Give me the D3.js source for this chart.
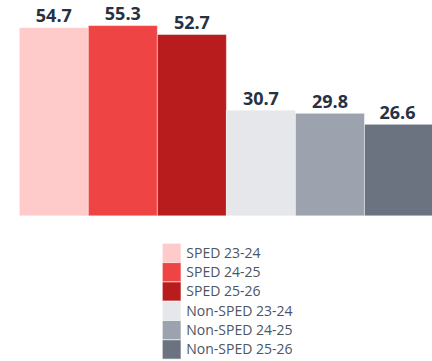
<!DOCTYPE html>
<html>
<head>
<meta charset="utf-8">
<script src="https://cdn.jsdelivr.net/npm/d3@7"></script>
<style>
  html, body { margin: 0; padding: 0; background: #ffffff; }
  svg { display: block; }
</style>
</head>
<body>
<svg id="chart" width="432" height="361"></svg>
<script>
// Series names, values and fills
const categories = ["SPED 23-24", "SPED 24-25", "SPED 25-26", "Non-SPED 23-24", "Non-SPED 24-25", "Non-SPED 25-26"];
const values = [54.7, 55.3, 52.7, 30.7, 29.8, 26.6];
const colors = ["#fecaca", "#ef4444", "#b91c1c", "#e5e7eb", "#9ca3af", "#6b7280"];

const svg = d3.select("#chart");

const x = d3.scaleBand().domain(categories).range([19.3, 433.5]).padding(0);
const y = d3.scaleLinear().domain([0, 60]).range([215.8, 9.4]);

const bars = svg.append("g");
bars.selectAll("rect")
  .data(categories)
  .join("rect")
  .attr("x", d => x(d))
  .attr("y", (d, i) => y(values[i]))
  .attr("width", x.bandwidth())
  .attr("height", (d, i) => y(0) - y(values[i]))
  .attr("fill", (d, i) => colors[i])
  .attr("stroke", "rgba(255,255,255,0.45)")
  .attr("stroke-width", 1);

// Value labels above bars
bars.selectAll("text")
  .data(categories)
  .join("text")
  .attr("x", d => x(d) + x.bandwidth() / 2 - (d === categories[5] ? 1.5 : 0))
  .attr("y", (d, i) => y(values[i]) - 5.5)
  .attr("text-anchor", "middle")
  .attr("font-family", "'Open Sans', sans-serif")
  .attr("font-weight", 700)
  .attr("font-size", "18px")
  .attr("fill", "#273142")
  .text((d, i) => values[i].toFixed(1));

// Legend
const legend = svg.append("g").attr("transform", "translate(162.3,243.3)");
const row = 19.3;
const items = legend.selectAll("g")
  .data(categories)
  .join("g")
  .attr("transform", (d, i) => `translate(0,${i * row})`);

items.append("rect")
  .attr("width", 18.7)
  .attr("height", row)
  .attr("fill", (d, i) => colors[i])
  .attr("stroke", "rgba(255,255,255,0.6)")
  .attr("stroke-width", 1);

items.append("text")
  .attr("x", 24)
  .attr("y", row / 2 + 4.8)
  .attr("font-family", "'Open Sans', sans-serif")
  .attr("font-size", "14px")
  .attr("fill", "#4b5563")
  .text(d => d);
</script>
</body>
</html>
